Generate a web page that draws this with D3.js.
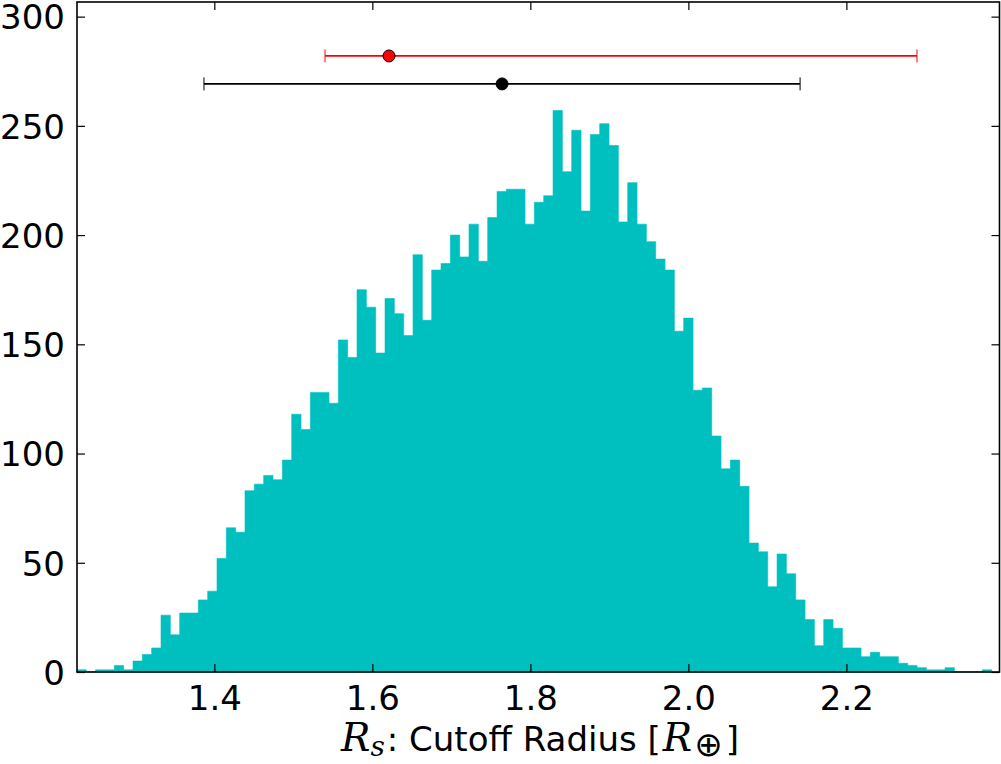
<!DOCTYPE html>
<html>
<head>
<meta charset="utf-8">
<script src="https://cdn.jsdelivr.net/npm/d3@7"></script>
<style>
  html, body { margin: 0; padding: 0; background: #fff; }
  svg { display: block; }
  text { font-family: "DejaVu Sans", sans-serif; fill: #000; }
</style>
</head>
<body>
<div id="chart"></div>
<script>
// ---- data ----
const binStart = 1.2262;     // left edge of first bin (R_earth)
const binWidth = 0.011814;   // bin width
const counts = [1,0,1,1,3,1,5,8,11,26,17,27,27,33,37,52,66,64,83,86,90,88,97,118,111,
  128,128,123,152,144,175,167,146,171,164,154,191,161,184,187,200,190,205,188,208,220,221,221,205,215,218,
  257,229,248,211,246,251,241,206,224,205,197,189,184,156,162,
  129,130,108,93,97,85,59,55,39,54,
  45,33,24,12,24,20,11,11,7,9,7,7,4,3,2,1,1,2,0,0,0,1];
const xTicks = [1.4, 1.6, 1.8, 2.0, 2.2];
const yTicks = [0, 50, 100, 150, 200, 250, 300];
const xDomain = [1.2262, 2.3938];
const yDomain = [0, 306.7];
// error bars: center, low, high, y level
const redBar = {center: 1.6211, low: 1.5401, high: 2.2894, y: 282};
const blackBar = {center: 1.7642, low: 1.3869, high: 2.1414, y: 269.2};

// ---- layout ----
const W = 1001, H = 764;
const mLeft = 77, mRight = 999.5, mTop = 2, mBottom = 672;

const svg = d3.select("#chart").append("svg").attr("width", W).attr("height", H);

const x = d3.scaleLinear().domain(xDomain).range([mLeft, mRight]);
const y = d3.scaleLinear().domain(yDomain).range([mBottom, mTop]);

// histogram as stepfilled path
const pts = [];
counts.forEach((c, i) => {
  const x0 = binStart + i * binWidth, x1 = x0 + binWidth;
  pts.push([x0, c], [x1, c]);
});
const area = d3.area()
  .x(d => x(d[0]))
  .y0(y(0))
  .y1(d => y(d[1]));
svg.append("path")
  .datum(pts)
  .attr("d", area)
  .attr("fill", "rgb(0,191,191)")
  .attr("stroke", "rgb(0,191,191)")
  .attr("stroke-width", 0.6);

// error bars
function errBar(e, color, lw) {
  const g = svg.append("g");
  g.append("line")
    .attr("x1", x(e.low)).attr("x2", x(e.high))
    .attr("y1", y(e.y)).attr("y2", y(e.y))
    .attr("stroke", color).attr("stroke-width", lw);
  [e.low, e.high].forEach(v => {
    g.append("line")
      .attr("x1", x(v)).attr("x2", x(v))
      .attr("y1", y(e.y) - 6.5).attr("y2", y(e.y) + 6.5)
      .attr("stroke", color).attr("stroke-width", 1);
  });
  g.append("circle")
    .attr("cx", x(e.center)).attr("cy", y(e.y)).attr("r", 6)
    .attr("fill", color).attr("stroke", "#000").attr("stroke-width", 1);
}
errBar(blackBar, "#000", 1.8);
errBar(redBar, "#ff0000", 1.8);

// axes (inward ticks on all sides, classic matplotlib)
const tickLen = 8;
const xAxisB = d3.axisBottom(x).tickValues(xTicks).tickSizeInner(-tickLen).tickSizeOuter(0).tickPadding(14)
  .tickFormat(d3.format(".1f"));
const xAxisT = d3.axisTop(x).tickValues(xTicks).tickSizeInner(-tickLen).tickSizeOuter(0).tickFormat("");
const yAxisL = d3.axisLeft(y).tickValues(yTicks).tickSizeInner(-tickLen).tickSizeOuter(0).tickPadding(12);
const yAxisR = d3.axisRight(y).tickValues(yTicks).tickSizeInner(-tickLen).tickSizeOuter(0).tickFormat("");

function styleAxis(g) {
  g.select(".domain").remove();
  g.selectAll(".tick line").attr("stroke", "#000").attr("stroke-width", 1.2);
  g.selectAll(".tick text").attr("font-size", 34).attr("font-family", "DejaVu Sans").attr("fill", "#000");
}
svg.append("g").attr("transform", `translate(0,${mBottom})`).call(xAxisB).call(styleAxis)
  .selectAll(".tick text").attr("dy", "0.71em");
svg.append("g").attr("transform", `translate(0,${mTop})`).call(xAxisT).call(styleAxis);
svg.append("g").attr("transform", `translate(${mLeft},0)`).call(yAxisL).call(styleAxis)
  .selectAll(".tick text").attr("dy", "0.36em");
svg.append("g").attr("transform", `translate(${mRight},0)`).call(yAxisR).call(styleAxis);

// frame
svg.append("rect")
  .attr("x", mLeft).attr("y", mTop)
  .attr("width", mRight - mLeft).attr("height", mBottom - mTop)
  .attr("fill", "none").attr("stroke", "#000").attr("stroke-width", 1.6);

// x label
const lbl = svg.append("text")
  .attr("x", 540).attr("y", 751)
  .attr("text-anchor", "middle").attr("font-size", 34);
lbl.append("tspan").attr("font-family", "DejaVu Serif").attr("font-style", "italic").attr("font-size", 39).text("R");
lbl.append("tspan").attr("font-family", "DejaVu Serif").attr("font-style", "italic").attr("font-size", 28).attr("dy", 5).text("s");
lbl.append("tspan").attr("dy", -5).attr("dx", 2).text(": Cutoff Radius [");
lbl.append("tspan").attr("font-family", "DejaVu Serif").attr("font-style", "italic").attr("font-size", 39).attr("dx", 2).text("R");
lbl.append("tspan").attr("font-family", "DejaVu Sans").attr("font-size", 34).attr("dy", 5).attr("dx", 2).text("⊕");
lbl.append("tspan").attr("dy", -5).attr("dx", 3).text("]");
</script>
</body>
</html>
